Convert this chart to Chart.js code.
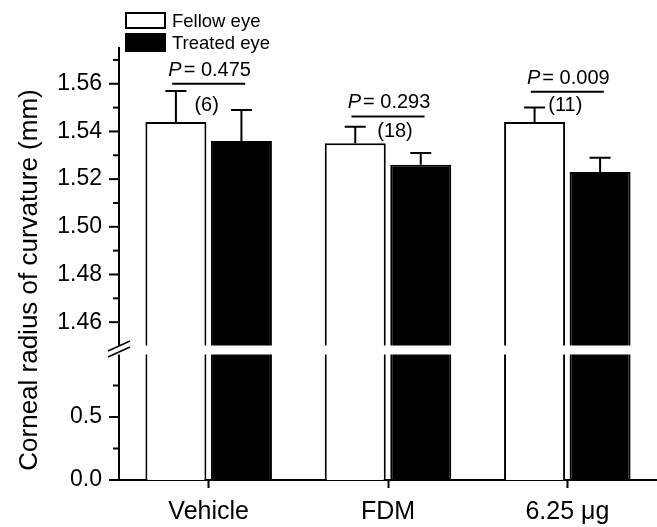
<!DOCTYPE html>
<html>
<head>
<meta charset="utf-8">
<title>Corneal radius of curvature</title>
<script src="https://cdn.jsdelivr.net/npm/chart.js@4.4.0/dist/chart.umd.min.js"></script>
<style>
    html, body { margin: 0; padding: 0; background: #fff; }
    #wrap { position: relative; width: 657px; height: 527px; }
</style>
</head>
<body>
<div id="wrap"><canvas id="curvatureChart"></canvas></div>
<script>
// Values (mm)
const groups = ['Vehicle', 'FDM', '6.25 μg'];
const fellowEye = [1.544, 1.535, 1.544];
const fellowSE = [0.013, 0.007, 0.006];
const treatedEye = [1.536, 1.526, 1.523];
const treatedSE = [0.013, 0.005, 0.006];
const pValues = ['0.475', '0.293', '0.009'];
const sampleSizes = [6, 18, 11];
// Level of the comparison line and of the (n) label for each pair
const pLineLevels = [1.560, 1.5463, 1.5567];
const nLabelLevels = [1.5508, 1.540, 1.5508];

// Broken y axis: upper segment 1.45 - 1.575, lower segment 0 - 1.0
const upperRange = [1.45, 1.575];
const lowerRange = [0, 1.0];
const upperMajorTicks = [1.46, 1.48, 1.50, 1.52, 1.54, 1.56];
const upperMinorTicks = [1.47, 1.49, 1.51, 1.53, 1.55, 1.57];
const lowerMajorTicks = [0, 0.5];
const lowerMinorTicks = [0.25, 0.75];

const FONT = '"Liberation Sans", Arial, Helvetica, sans-serif';
Chart.defaults.font.family = FONT;
Chart.defaults.color = '#000';

// pixel heights of the two segments and of the white gap between them
const UPPER_PX = 298, LOWER_PX = 126, GAP_PX = 8;
const lowerMax = lowerRange[1] * (LOWER_PX + GAP_PX) / LOWER_PX;
const clampLow = (v) => Math.min(v, lowerMax);

function setTicks(scale, major, minor) {
    scale.ticks = major.concat(minor).sort((a, b) => a - b)
        .map(v => ({ value: v, major: major.includes(v) }));
}

const brokenAxis = {
    id: 'brokenAxis',
    afterDatasetsDraw(chart) {
        const { ctx, chartArea, scales } = chart;
        const up = scales.yUpper, low = scales.yLower, x = scales.x;
        const gapTop = up.bottom;
        const gapBottom = low.getPixelForValue(lowerRange[1]);
        ctx.save();

        // white gap cutting bars and axis
        if (gapBottom > gapTop) {
            ctx.fillStyle = '#fff';
            ctx.fillRect(chartArea.left - 4, gapTop - 0.5,
                chartArea.right - chartArea.left + 4, gapBottom - gapTop + 1);
        }

        // break marks
        ctx.strokeStyle = '#000';
        ctx.lineWidth = 1.6;
        const bx = up.right, by = (gapTop + gapBottom) / 2 - 1;
        [-3, 3].forEach(d => {
            ctx.beginPath();
            ctx.moveTo(bx - 11, by + d + 5);
            ctx.lineTo(bx + 11, by + d - 5);
            ctx.stroke();
        });

        // y tick marks: long for labelled, short for minor
        ctx.lineWidth = 2;
        [up, low].forEach(s => {
            s.ticks.forEach(t => {
                const py = s.getPixelForValue(t.value);
                const len = t.major ? 10 : 6;
                ctx.beginPath();
                ctx.moveTo(s.right - len, py);
                ctx.lineTo(s.right, py);
                ctx.stroke();
            });
        });

        // error bars (upper only)
        const se = [fellowSE, treatedSE];
        const means = [fellowEye, treatedEye];
        [0, 1].forEach(di => {
            chart.getDatasetMeta(di).data.forEach((bar, j) => {
                const top = up.getPixelForValue(means[di][j] + se[di][j]);
                ctx.beginPath();
                ctx.moveTo(bar.x, bar.y);
                ctx.lineTo(bar.x, top);
                ctx.moveTo(bar.x - 10.5, top);
                ctx.lineTo(bar.x + 10.5, top);
                ctx.stroke();
            });
        });

        // comparison lines, P values and sample sizes
        const nShift = [-2, 7, -2];
        groups.forEach((g, j) => {
            const cx = x.getPixelForValue(j);
            const ly = up.getPixelForValue(pLineLevels[j]);
            ctx.beginPath();
            ctx.moveTo(cx - 36.5, ly);
            ctx.lineTo(cx + 36.5, ly);
            ctx.stroke();

            ctx.fillStyle = '#000';
            ctx.textBaseline = 'alphabetic';
            ctx.textAlign = 'left';
            const rest = '= ' + pValues[j];
            ctx.font = 'italic 20px ' + FONT;
            const wP = ctx.measureText('P').width;
            ctx.font = '20px ' + FONT;
            const wR = ctx.measureText(rest).width;
            const sx = cx + 1 - (wP + 2 + wR) / 2;
            ctx.font = 'italic 20px ' + FONT;
            ctx.fillText('P', sx, ly - 8);
            ctx.font = '20px ' + FONT;
            ctx.fillText(rest, sx + wP + 2, ly - 8);

            ctx.textAlign = 'center';
            ctx.textBaseline = 'middle';
            ctx.font = '20px ' + FONT;
            ctx.fillText('(' + sampleSizes[j] + ')', cx + nShift[j],
                up.getPixelForValue(nLabelLevels[j]));
        });

        // legend
        const ds = chart.data.datasets;
        ctx.lineWidth = 2;
        ctx.fillStyle = ds[0].backgroundColor;
        ctx.fillRect(126, 13, 39, 15);
        ctx.strokeRect(126, 13, 39, 15);
        ctx.fillStyle = ds[1].backgroundColor;
        ctx.fillRect(125, 33, 41, 19);
        ctx.fillStyle = '#000';
        ctx.textAlign = 'left';
        ctx.textBaseline = 'alphabetic';
        ctx.font = '18.5px ' + FONT;
        ctx.fillText(ds[0].label, 172, 27);
        ctx.fillText(ds[1].label, 172, 49);

        // y axis title, centred along the broken axis
        ctx.save();
        ctx.translate(37, 280);
        ctx.rotate(-Math.PI / 2);
        ctx.textAlign = 'center';
        ctx.textBaseline = 'alphabetic';
        ctx.font = '26px ' + FONT;
        ctx.fillText('Corneal radius of curvature (mm)', 0, 0);
        ctx.restore();

        ctx.restore();
    }
};

const barStyle = (fill) => ({
    backgroundColor: fill,
    borderColor: '#000',
    borderWidth: 2,
    categoryPercentage: 0.7306,
    barPercentage: 0.931
});

const ctx = document.getElementById('curvatureChart').getContext('2d');
const curvatureChart = new Chart(ctx, {
    type: 'bar',
    data: {
        labels: groups,
        datasets: [
            { label: 'Fellow eye', data: fellowEye, yAxisID: 'yUpper', stack: 'fellow', ...barStyle('#fff') },
            { label: 'Treated eye', data: treatedEye, yAxisID: 'yUpper', stack: 'treated', ...barStyle('#000') },
            { label: 'Fellow eye', data: fellowEye.map(clampLow), yAxisID: 'yLower', stack: 'fellow', ...barStyle('#fff') },
            { label: 'Treated eye', data: treatedEye.map(clampLow), yAxisID: 'yLower', stack: 'treated', ...barStyle('#000') }
        ]
    },
    options: {
        responsive: true,
        maintainAspectRatio: false,
        animation: false,
        layout: { padding: { top: 48, left: 40, right: 0, bottom: 0 } },
        scales: {
            x: {
                type: 'category',
                offset: true,
                grid: { display: true, drawOnChartArea: false, offset: false, tickLength: 8, tickWidth: 2, tickColor: '#000' },
                border: { display: true, color: '#000', width: 2 },
                ticks: { color: '#000', padding: 9, font: { size: 25 } },
                afterFit: (s) => { s.height = 47; }
            },
            // left-side stacked axes are placed last-defined on top
            yLower: {
                type: 'linear',
                position: 'left',
                stack: 'y',
                stackWeight: LOWER_PX + GAP_PX,
                stacked: false,
                min: lowerRange[0],
                max: lowerMax,
                afterBuildTicks: (s) => setTicks(s, lowerMajorTicks, lowerMinorTicks),
                afterFit: (s) => { s.width = 79; },
                grid: { display: false, drawTicks: false },
                border: { display: true, color: '#000', width: 2 },
                ticks: {
                    autoSkip: false, padding: 17, color: '#000', font: { size: 23 },
                    callback: (v) => lowerMajorTicks.includes(v) ? v.toFixed(1) : ''
                }
            },
            yUpper: {
                type: 'linear',
                position: 'left',
                stack: 'y',
                stackWeight: UPPER_PX,
                stacked: false,
                min: upperRange[0],
                max: upperRange[1],
                afterBuildTicks: (s) => setTicks(s, upperMajorTicks, upperMinorTicks),
                afterFit: (s) => { s.width = 79; },
                grid: { display: false, drawTicks: false },
                border: { display: true, color: '#000', width: 2 },
                ticks: {
                    autoSkip: false, padding: 17, color: '#000', font: { size: 23 },
                    callback: (v) => upperMajorTicks.includes(v) ? v.toFixed(2) : ''
                }
            }
        },
        plugins: {
            legend: { display: false },
            tooltip: { enabled: false }
        }
    },
    plugins: [brokenAxis]
});
</script>
</body>
</html>
